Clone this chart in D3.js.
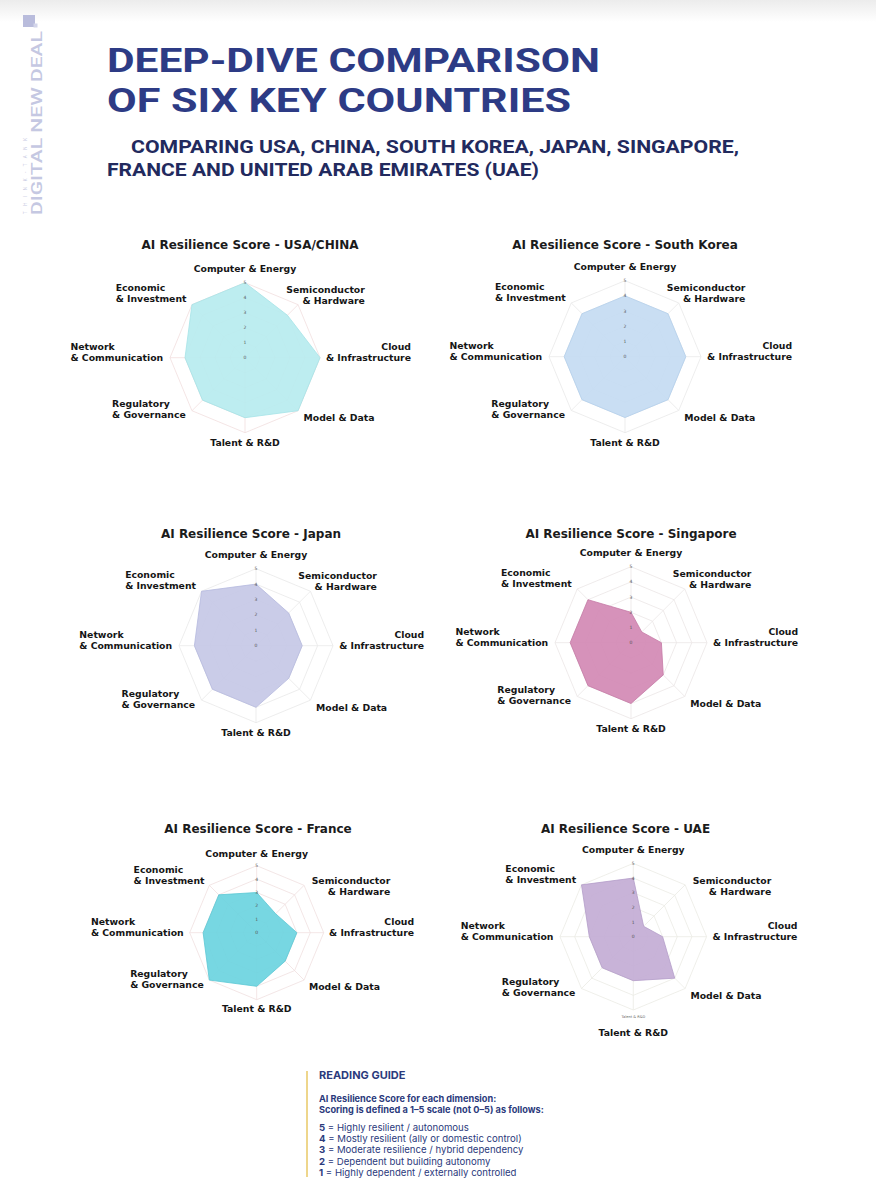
<!DOCTYPE html>
<html>
<head>
<meta charset="utf-8">
<script src="https://cdn.jsdelivr.net/npm/d3@7"></script>
<style>
  html, body { margin: 0; padding: 0; background: #fff; }
  svg { display: block; }
</style>
</head>
<body>
<svg id="page" width="876" height="1200"></svg>
<script>
// ---- data ----
const axisLabels = [
    ["Computer & Energy"],
    ["Semiconductor", "& Hardware"],
    ["Cloud", "& Infrastructure"],
    ["Model & Data"],
    ["Talent & R&D"],
    ["Regulatory", "& Governance"],
    ["Network", "& Communication"],
    ["Economic", "& Investment"]
];

const countries = ["USA/CHINA", "South Korea", "Japan", "Singapore", "France", "UAE"];

const usaChina   = [5, 4, 5, 5, 4, 4, 4, 5];
const southKorea = [4, 4, 4, 4, 4, 4, 4, 4];
const japan      = [4, 3, 3, 3, 4, 4, 4, 5];
const singapore  = [2, 1, 2, 3, 4, 4, 4, 4];
const france     = [3, 2, 3, 3, 4, 5, 4, 4];
const uae        = [4, 1, 2, 4, 3, 3, 3, 5];

const seriesValues = [usaChina, southKorea, japan, singapore, france, uae];

const scoreTicks = [0, 1, 2, 3, 4, 5];

const guideScores = ["5", "4", "3", "2", "1"];
const guideTexts = [
    "Highly resilient / autonomous",
    "Mostly resilient (ally or domestic control)",
    "Moderate resilience / hybrid dependency",
    "Dependent but building autonomy",
    "Highly dependent / externally controlled"
];

// ---- styles and layout ----
const fills = ["#b7ecef", "#c4dbf2", "#c5c8e6", "#d389b4", "#6bd4df", "#c3acd5"];
const edges = ["#a6e3e7", "#b3cfec", "#b5b9de", "#c57aa6", "#5cc8d4", "#b49dc9"];

const panels = [
    { cx: 245,   cy: 357.7, r: 75,   tx: 250,   ty: 245,   semi: [0.55, -0.76], grid: "#f1dede" },
    { cx: 625,   cy: 356.7, r: 76,   tx: 625,   ty: 245,   semi: [0.55, -0.76], grid: "#e9e9e9" },
    { cx: 256,   cy: 645.7, r: 77,   tx: 251,   ty: 533.3, semi: [0.55, -0.76], grid: "#e9e9e9" },
    { cx: 631,   cy: 642.7, r: 76,   tx: 631,   ty: 533.3, semi: [0.55, -0.76], grid: "#ebe6e6" },
    { cx: 256.7, cy: 932.7, r: 67,   tx: 258,   ty: 828.3, semi: [0.82, -0.61], grid: "#f0e0e0" },
    { cx: 633.3, cy: 936.7, r: 73.3, tx: 625.5, ty: 828.3, semi: [0.81, -0.61], grid: "#ebebe4", talentY: 96.5, echo: 1.095 }
];

// where each axis label block sits, in units of the radius
const labelSpots = [
    { side: "mid",   x: 0,     mid: -1.18 },
    { side: "right", x: 0.55,  last: -0.76 },
    { side: "right", x: 1.08,  last: 0 },
    { side: "right", x: 0.78,  first: 0.8 },
    { side: "mid",   x: 0,     mid: 1.13 },
    { side: "left",  x: -0.79, first: 0.62 },
    { side: "left",  x: -1.09, last: 0 },
    { side: "left",  x: -0.78, last: -0.78 }
];

const lineGap = 11,
    labelFont = "'DejaVu Sans', sans-serif",
    navy = "#2d3b85";

const svg = d3.select("#page");

// faint grey band at the top of the page
const defs = svg.append("defs");
const grad = defs.append("linearGradient").attr("id", "topfade")
    .attr("x1", 0).attr("y1", 0).attr("x2", 0).attr("y2", 1);
grad.append("stop").attr("offset", "0%").attr("stop-color", "#ececec");
grad.append("stop").attr("offset", "100%").attr("stop-color", "#ffffff");
svg.append("rect").attr("width", 876).attr("height", 22).attr("fill", "url(#topfade)");

// ---- side brand ----
svg.append("rect").attr("x", 23).attr("y", 15).attr("width", 12).attr("height", 12).attr("fill", "#b9bcdc");
svg.append("rect").attr("x", 33.5).attr("y", 23.5).attr("width", 4).attr("height", 4).attr("fill", "#d3d5ea");

svg.append("text")
    .attr("transform", "translate(41.5,215) rotate(-90)")
    .attr("textLength", 184)
    .attr("lengthAdjust", "spacingAndGlyphs")
    .style("font-family", "Roboto, sans-serif")
    .style("font-size", "14px")
    .style("font-weight", 500)
    .attr("fill", "#c5c8e2")
    .text("DIGITAL NEW DEAL");

svg.append("text")
    .attr("transform", "translate(27,214) rotate(-90)")
    .attr("textLength", 76)
    .attr("lengthAdjust", "spacing")
    .style("font-family", "Roboto, sans-serif")
    .style("font-size", "4.5px")
    .attr("fill", "#c9cbe3")
    .text("THINK-TANK");

// ---- heading ----
const heading = [
    { t: "DEEP-DIVE COMPARISON", x: 107, y: 71.7, w: 493, size: 34, c: navy },
    { t: "OF SIX KEY COUNTRIES", x: 107, y: 111.7, w: 464, size: 34, c: navy },
    { t: "COMPARING USA, CHINA, SOUTH KOREA, JAPAN, SINGAPORE,", x: 131, y: 152.7, w: 608, size: 17.5, c: "#222a5e" },
    { t: "FRANCE AND UNITED ARAB EMIRATES (UAE)", x: 107, y: 175.7, w: 432, size: 17.5, c: "#222a5e" }
];

svg.selectAll(".heading").data(heading).enter().append("text")
    .attr("class", "heading")
    .attr("x", d => d.x)
    .attr("y", d => d.y)
    .attr("textLength", d => d.w)
    .attr("lengthAdjust", "spacingAndGlyphs")
    .style("font-family", "Roboto, sans-serif")
    .style("font-weight", 700)
    .style("font-size", d => d.size + "px")
    .attr("fill", d => d.c)
    .text(d => d.t);

// ---- radar charts ----
const step = 2 * Math.PI / axisLabels.length;

panels.forEach(function(p, k) {

    const values = seriesValues[k],
        rScale = d3.scaleLinear().domain([0, 5]).range([0, p.r]),
        g = svg.append("g").attr("transform", "translate(" + p.cx + "," + p.cy + ")");

    const radial = d3.lineRadial()
        .angle((d, i) => i * step)
        .radius(d => rScale(d))
        .curve(d3.curveLinearClosed);

    // rings
    g.selectAll(".ring")
        .data(scoreTicks.slice(1))
        .enter().append("path")
        .attr("class", "ring")
        .attr("d", t => radial(axisLabels.map(() => t)))
        .attr("fill", "none")
        .attr("stroke", p.grid)
        .attr("stroke-width", 0.8);

    // spokes
    g.selectAll(".spoke")
        .data(axisLabels)
        .enter().append("line")
        .attr("class", "spoke")
        .attr("x1", 0).attr("y1", 0)
        .attr("x2", (d, i) => rScale(5) * Math.sin(i * step))
        .attr("y2", (d, i) => -rScale(5) * Math.cos(i * step))
        .attr("stroke", p.grid)
        .attr("stroke-width", 0.8);

    // score area
    g.append("path")
        .attr("d", radial(values))
        .attr("fill", fills[k])
        .attr("fill-opacity", 0.92)
        .attr("stroke", edges[k])
        .attr("stroke-width", 0.8);

    // tick numbers
    g.selectAll(".tick")
        .data(scoreTicks)
        .enter().append("text")
        .attr("class", "tick")
        .attr("x", 0)
        .attr("y", t => -rScale(t))
        .attr("dy", "0.35em")
        .attr("text-anchor", "middle")
        .style("font-family", labelFont)
        .style("font-size", "4.5px")
        .attr("fill", "#555")
        .text(t => t);

    // axis labels
    axisLabels.forEach(function(lines, i) {
        var spot = Object.assign({}, labelSpots[i]),
            firstMid,
            block,
            texts,
            w;

        if (i === 1) { spot.x = p.semi[0]; spot.last = p.semi[1]; }

        if (spot.mid !== undefined) firstMid = spot.mid * p.r;
        else if (spot.first !== undefined) firstMid = spot.first * p.r;
        else firstMid = spot.last * p.r - (lines.length - 1) * lineGap;

        if (i === 4 && p.talentY) firstMid = p.talentY;

        block = g.append("g");
        texts = block.selectAll("text")
            .data(lines)
            .enter().append("text")
            .attr("y", (d, j) => firstMid + j * lineGap)
            .attr("dy", "0.35em")
            .style("font-family", labelFont)
            .style("font-size", "9.3px")
            .style("font-weight", 700)
            .attr("fill", "#151515")
            .text(d => d);

        w = d3.max(texts.nodes(), n => n.getComputedTextLength());

        if (spot.side === "mid") {
            texts.attr("x", 0).attr("text-anchor", "middle");
        } else if (spot.side === "right") {
            texts.attr("x", spot.x * p.r + w).attr("text-anchor", "end");
        } else {
            texts.attr("x", spot.x * p.r - w).attr("text-anchor", "start");
        }
    });

    // small duplicate axis label seen on the UAE chart
    if (p.echo) {
        g.append("text")
            .attr("x", 0)
            .attr("y", p.echo * p.r)
            .attr("dy", "0.35em")
            .attr("text-anchor", "middle")
            .style("font-family", labelFont)
            .style("font-size", "3.6px")
            .attr("fill", "#666")
            .text(axisLabels[4][0]);
    }

    // chart title
    svg.append("text")
        .attr("x", p.tx)
        .attr("y", p.ty)
        .attr("dy", "0.35em")
        .attr("text-anchor", "middle")
        .style("font-family", labelFont)
        .style("font-size", "12px")
        .style("font-weight", 700)
        .attr("fill", "#1b1b1b")
        .text("AI Resilience Score - " + countries[k]);
});

// ---- reading guide ----
const guide = svg.append("g").style("font-family", "Inter, sans-serif").attr("fill", "#2b3a7c");

guide.append("line")
    .attr("x1", 307).attr("x2", 307)
    .attr("y1", 1071).attr("y2", 1177)
    .attr("stroke", "#eed68c")
    .attr("stroke-width", 2);

guide.append("text")
    .attr("x", 319).attr("y", 1075.5).attr("dy", "0.35em")
    .style("font-size", "11px").style("font-weight", 700)
    .text("READING GUIDE");

guide.selectAll(".intro")
    .data(["AI Resilience Score for each dimension:", "Scoring is defined a 1\u20135 scale (not 0\u20135) as follows:"])
    .enter().append("text")
    .attr("class", "intro")
    .attr("x", 319)
    .attr("y", (d, i) => 1098.3 + i * 11.5)
    .attr("dy", "0.35em")
    .style("font-size", "9.2px")
    .style("font-weight", 700)
    .text(d => d);

const items = guide.selectAll(".item")
    .data(guideScores)
    .enter().append("text")
    .attr("class", "item")
    .attr("x", 319)
    .attr("y", (d, i) => 1127.7 + i * 11.2)
    .attr("dy", "0.35em")
    .style("font-size", "9.6px");

items.append("tspan").style("font-weight", 700).text(d => d);
items.append("tspan").text((d, i) => " = " + guideTexts[i]);
</script>
</body>
</html>
